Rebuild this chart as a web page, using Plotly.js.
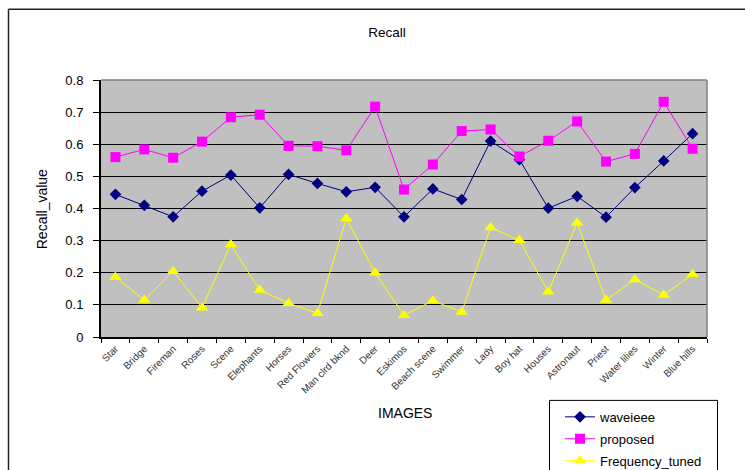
<!DOCTYPE html>
<html>
<head>
<meta charset="utf-8">
<script src="https://cdn.plot.ly/plotly-3.0.1.min.js"></script>
<style>
html,body{margin:0;padding:0;background:#fff;}
#chart{width:745px;height:470px;}
</style>
</head>
<body>
<div id="chart"></div>
<script>
var categories = ["Star","Bridge","Fireman","Roses","Scene","Elephants","Horses","Red Flowers","Man clrd bknd","Deer","Eskimos","Beach scene","Swimmer","Lady","Boy hat","Houses","Astronaut","Priest","Water lilies","Winter","Blue hills"];
var waveieee = [0.444,0.410,0.374,0.454,0.504,0.402,0.506,0.478,0.452,0.466,0.374,0.461,0.428,0.610,0.552,0.401,0.438,0.373,0.465,0.548,0.633];
var proposed = [0.560,0.584,0.558,0.608,0.684,0.692,0.595,0.594,0.581,0.717,0.459,0.537,0.641,0.646,0.562,0.611,0.671,0.546,0.570,0.732,0.586];
var frequencyTuned = [0.187,0.115,0.205,0.091,0.288,0.146,0.105,0.074,0.369,0.200,0.068,0.113,0.078,0.341,0.301,0.141,0.355,0.115,0.179,0.131,0.195];
var yTicks = [0,0.1,0.2,0.3,0.4,0.5,0.6,0.7,0.8];
var yTickText = ["0","0.1","0.2","0.3","0.4","0.5","0.6","0.7","0.8"];

var FONT = "Arial, 'Liberation Sans', sans-serif";
var W = 745, H = 470;
var L = 101, R = 707, T = 79.5, B = 337;
function px(x){ return (x - L) / (R - L); }
function py(y){ return (B - y) / (B - T); }

var traces = [
  {x: categories, y: waveieee, name: "waveieee", legendgroup: "g1", type: "scatter", mode: "lines+markers",
   line: {color: "#000080", width: 1}, marker: {symbol: "diamond", size: 9, color: "#000080"}},
  {x: categories, y: proposed, name: "proposed", legendgroup: "g2", type: "scatter", mode: "lines+markers",
   line: {color: "#FF00FF", width: 1}, marker: {symbol: "square", size: 10, color: "#FF00FF"}},
  {x: categories, y: frequencyTuned, name: "Frequency_tuned", legendgroup: "g3", type: "scatter", mode: "lines+markers",
   line: {color: "#FFFF00", width: 1}, marker: {symbol: "triangle-up", size: 11, color: "#FFFF00"}}
];

var layout = {
  width: W, height: H,
  margin: {l: L, r: W - R, t: T, b: H - B, autoexpand: false},
  paper_bgcolor: "#ffffff",
  plot_bgcolor: "#C0C0C0",
  font: {family: FONT, color: "#000"},
  title: {text: "Recall", font: {family: FONT, size: 13.5, color: "#000"}, x: 387 / W, xref: "container", xanchor: "center", y: 1 - 32 / H, yref: "container", yanchor: "middle"},
  showlegend: true,
  legend: {x: px(560), y: py(402), xanchor: "left", yanchor: "top", traceorder: "grouped", tracegroupgap: 2,
           bgcolor: "rgba(0,0,0,0)", borderwidth: 0, font: {family: FONT, size: 13, color: "#000"}},
  xaxis: {
    type: "category", range: [-0.5, categories.length - 0.5], tickson: "boundaries",
    ticks: "outside", ticklen: 4, tickcolor: "#000", tickwidth: 1,
    tickangle: -45, tickfont: {family: FONT, size: 10, color: "#333"},
    showline: true, linecolor: "#000", linewidth: 2, showgrid: false, zeroline: false, fixedrange: true
  },
  yaxis: {
    range: [0, 0.8], tickvals: yTicks, ticktext: yTickText,
    ticks: "outside", ticklen: 6, tickcolor: "#000", tickwidth: 1,
    ticklabelstandoff: 7,
    tickfont: {family: FONT, size: 13, color: "#000"},
    showline: true, linecolor: "#000", linewidth: 2,
    showgrid: true, gridcolor: "#000", gridwidth: 1, zeroline: false, fixedrange: true
  },
  annotations: [
    {text: "Recall_value", xref: "paper", yref: "paper", x: px(42), y: py(209), showarrow: false, textangle: -90, font: {family: FONT, size: 14, color: "#000"}, xanchor: "center", yanchor: "middle"},
    {text: "IMAGES", xref: "paper", yref: "paper", x: px(405), y: py(413), showarrow: false, font: {family: FONT, size: 14, color: "#000"}, xanchor: "center", yanchor: "middle"}
  ],
  shapes: [
    {type: "line", xref: "paper", yref: "paper", x0: 0, x1: 1, y0: 1, y1: 1, line: {color: "#808080", width: 1.5}, layer: "above"},
    {type: "line", xref: "paper", yref: "paper", x0: 1, x1: 1, y0: 0, y1: 1, line: {color: "#808080", width: 1.5}, layer: "above"},
    {type: "line", xref: "paper", yref: "paper", x0: px(8.5), x1: px(8.5), y0: py(8.5), y1: py(480), line: {color: "#222", width: 1.5}},
    {type: "line", xref: "paper", yref: "paper", x0: px(8.5), x1: px(760), y0: py(8.5), y1: py(8.5), line: {color: "#222", width: 1.5}},
    {type: "rect", xref: "paper", yref: "paper", x0: px(549.5), x1: px(717.5), y0: py(400.5), y1: py(490), line: {color: "#000", width: 1}, fillcolor: "rgba(0,0,0,0)"}
  ]
};

Plotly.newPlot("chart", traces, layout, {displayModeBar: false, staticPlot: true});
</script>
</body>
</html>
